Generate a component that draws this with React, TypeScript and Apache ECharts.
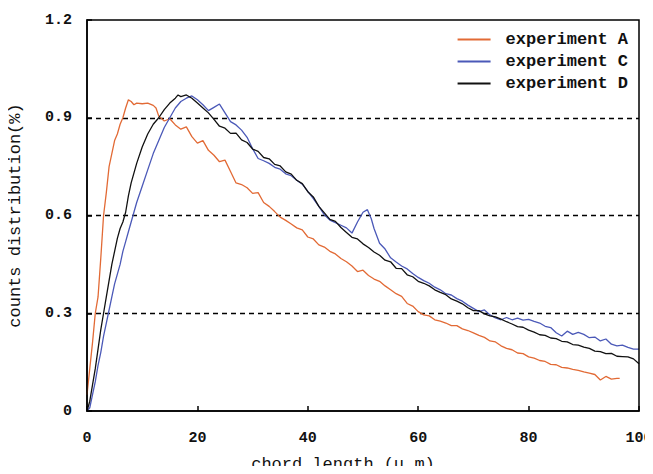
import React, { useEffect, useRef } from "react";
import * as echarts from "echarts";

const seriesNames = ["experiment A", "experiment C", "experiment D"];
const seriesColors = ["#E26A35", "#4B59B8", "#111111"];

const expA: [number, number][] = [
  [0, 0.05], [0.5, 0.13], [1, 0.21], [1.5, 0.3], [2, 0.35], [2.5, 0.47], [3, 0.6], [3.5, 0.67], [4, 0.75], [4.5, 0.79],
  [5, 0.83], [5.5, 0.85], [6, 0.88], [6.5, 0.9], [7, 0.93], [7.5, 0.955], [8, 0.95], [8.5, 0.94], [9, 0.945], [10, 0.943],
  [11, 0.945], [12, 0.938], [12.5, 0.93], [13, 0.905], [14, 0.89], [15, 0.897], [16, 0.878], [17, 0.865], [18, 0.872], [19, 0.842],
  [20, 0.822], [21, 0.83], [22, 0.8], [23, 0.785], [24, 0.765], [25, 0.77], [26, 0.735], [27, 0.7], [28, 0.695], [29, 0.685],
  [30, 0.668], [31, 0.67], [32, 0.64], [33, 0.628], [34, 0.612], [35, 0.595], [36, 0.585], [37, 0.574], [38, 0.562], [39, 0.556],
  [40, 0.534], [41, 0.528], [42, 0.51], [43, 0.503], [44, 0.49], [45, 0.482], [46, 0.468], [47, 0.458], [48, 0.445], [49, 0.428],
  [50, 0.432], [51, 0.416], [52, 0.405], [53, 0.398], [54, 0.384], [55, 0.372], [56, 0.36], [57, 0.352], [58, 0.33], [59, 0.322],
  [60, 0.305], [61, 0.295], [62, 0.292], [63, 0.28], [64, 0.276], [65, 0.27], [66, 0.262], [67, 0.262], [68, 0.252], [69, 0.247],
  [70, 0.24], [71, 0.232], [72, 0.226], [73, 0.215], [74, 0.212], [75, 0.2], [76, 0.192], [77, 0.188], [78, 0.178], [79, 0.176],
  [80, 0.166], [81, 0.162], [82, 0.155], [83, 0.152], [84, 0.143], [85, 0.142], [86, 0.134], [87, 0.132], [88, 0.128], [89, 0.125],
  [90, 0.12], [91, 0.116], [92, 0.112], [93, 0.095], [94, 0.106], [95, 0.098], [96, 0.1], [96.5, 0.1],
];

const expC: [number, number][] = [
  [0, 0], [0.5, 0.01], [1, 0.05], [1.5, 0.09], [2, 0.14], [2.5, 0.18], [3, 0.23], [3.5, 0.27], [4, 0.31], [4.5, 0.35],
  [5, 0.39], [5.5, 0.42], [6, 0.45], [6.5, 0.49], [7, 0.52], [7.5, 0.55], [8, 0.58], [8.5, 0.61], [9, 0.64], [10, 0.69],
  [11, 0.74], [12, 0.79], [13, 0.83], [14, 0.87], [15, 0.9], [16, 0.93], [17, 0.95], [18, 0.96], [19, 0.967], [20, 0.955],
  [21, 0.94], [22, 0.922], [23, 0.932], [24, 0.942], [25, 0.915], [26, 0.888], [27, 0.878], [28, 0.862], [29, 0.84], [30, 0.805],
  [31, 0.775], [32, 0.768], [33, 0.76], [34, 0.748], [35, 0.742], [36, 0.728], [37, 0.722], [38, 0.708], [39, 0.696], [40, 0.674],
  [41, 0.652], [42, 0.628], [43, 0.602], [44, 0.586], [45, 0.578], [46, 0.57], [47, 0.562], [48, 0.546], [49, 0.58], [50, 0.61],
  [50.8, 0.618], [51.5, 0.59], [52, 0.56], [53, 0.515], [54, 0.497], [55, 0.47], [56, 0.457], [57, 0.445], [58, 0.436], [59, 0.422],
  [60, 0.41], [61, 0.4], [62, 0.392], [63, 0.38], [64, 0.372], [65, 0.36], [66, 0.356], [67, 0.345], [68, 0.337], [69, 0.325],
  [70, 0.315], [71, 0.305], [72, 0.31], [73, 0.295], [74, 0.286], [75, 0.28], [76, 0.287], [77, 0.28], [78, 0.285], [79, 0.279],
  [80, 0.281], [81, 0.275], [82, 0.27], [83, 0.26], [84, 0.256], [85, 0.24], [86, 0.23], [87, 0.245], [88, 0.235], [89, 0.241],
  [90, 0.235], [91, 0.225], [92, 0.227], [93, 0.215], [94, 0.221], [95, 0.205], [96, 0.2], [97, 0.202], [98, 0.195], [99, 0.19],
  [100, 0.19],
];

const expD: [number, number][] = [
  [0, 0], [0.5, 0.03], [1, 0.08], [1.5, 0.13], [2, 0.19], [2.5, 0.25], [3, 0.3], [3.5, 0.35], [4, 0.4], [4.5, 0.45],
  [5, 0.49], [5.5, 0.53], [6, 0.56], [6.5, 0.58], [7, 0.61], [7.5, 0.66], [8, 0.7], [9, 0.76], [10, 0.81], [11, 0.85],
  [12, 0.88], [13, 0.9], [14, 0.925], [15, 0.945], [16, 0.96], [16.5, 0.97], [17, 0.965], [18, 0.97], [19, 0.96], [20, 0.945],
  [21, 0.93], [22, 0.915], [23, 0.895], [24, 0.874], [25, 0.868], [26, 0.852], [27, 0.853], [28, 0.832], [29, 0.824], [30, 0.804],
  [31, 0.797], [32, 0.778], [33, 0.774], [34, 0.757], [35, 0.752], [36, 0.734], [37, 0.727], [38, 0.708], [39, 0.698], [40, 0.673],
  [41, 0.657], [42, 0.628], [43, 0.608], [44, 0.588], [45, 0.582], [46, 0.563], [47, 0.548], [48, 0.533], [49, 0.528], [50, 0.513],
  [51, 0.502], [52, 0.488], [53, 0.478], [54, 0.463], [55, 0.458], [56, 0.438], [57, 0.437], [58, 0.418], [59, 0.412], [60, 0.398],
  [61, 0.392], [62, 0.384], [63, 0.372], [64, 0.364], [65, 0.357], [66, 0.344], [67, 0.337], [68, 0.329], [69, 0.317], [70, 0.308],
  [71, 0.308], [72, 0.298], [73, 0.292], [74, 0.289], [75, 0.282], [76, 0.274], [77, 0.267], [78, 0.259], [79, 0.257], [80, 0.248],
  [81, 0.242], [82, 0.234], [83, 0.232], [84, 0.224], [85, 0.222], [86, 0.214], [87, 0.212], [88, 0.204], [89, 0.202], [90, 0.196],
  [91, 0.192], [92, 0.184], [93, 0.182], [94, 0.176], [95, 0.177], [96, 0.168], [97, 0.167], [98, 0.166], [99, 0.16], [100, 0.145],
];

const xTicks = { min: 0, max: 100, interval: 20 };
const yTicks = { min: 0, max: 1.2, interval: 0.3 };

const FONT = "'Liberation Mono', 'DejaVu Sans Mono', monospace";

export default function App() {
  const ref = useRef<HTMLDivElement>(null);
  useEffect(() => {
    if (!ref.current) return;
    const chart = echarts.init(ref.current, null, { renderer: "svg" });
    const allData = [expA, expC, expD];
    chart.setOption({
      animation: false,
      backgroundColor: "#ffffff",
      textStyle: { fontFamily: FONT },
      grid: {
        left: 87,
        right: 14,
        top: 20,
        bottom: 63,
        outerBoundsMode: "none",
        containLabel: false,
        show: true,
        borderColor: "#000",
        borderWidth: 1.5,
        backgroundColor: "transparent",
        z: 10,
      },
      legend: {
        orient: "vertical",
        right: 20,
        top: 26,
        itemGap: 5,
        itemWidth: 33,
        itemHeight: 2,
        icon: "rect",
        data: seriesNames,
        textStyle: {
          fontFamily: FONT,
          fontWeight: "bold",
          fontSize: 17,
          color: "#111",
          padding: [0, 0, 0, 10],
        },
      },
      xAxis: {
        type: "value",
        min: xTicks.min,
        max: xTicks.max,
        interval: xTicks.interval,
        name: "chord length (μ m)",
        nameLocation: "middle",
        nameGap: 45,
        nameTextStyle: {
          fontFamily: FONT,
          fontSize: 17,
          color: "#111",
          padding: [0, 40, 0, 0],
        },
        axisLine: { show: true, lineStyle: { color: "#000", width: 1.5 } },
        axisTick: { show: true, inside: true, length: 5, lineStyle: { color: "#000", width: 1.5 } },
        axisLabel: {
          margin: 20,
          fontFamily: FONT,
          fontWeight: "bold",
          fontSize: 15,
          color: "#111",
        },
        splitLine: { show: false },
      },
      yAxis: {
        type: "value",
        min: yTicks.min,
        max: yTicks.max,
        interval: yTicks.interval,
        name: "counts distribution(%)",
        nameLocation: "middle",
        nameGap: 63,
        nameTextStyle: { fontFamily: FONT, fontSize: 17, color: "#111" },
        axisLine: { show: true, lineStyle: { color: "#000", width: 1.5 } },
        axisTick: { show: true, inside: true, length: 5, lineStyle: { color: "#000", width: 1.5 } },
        axisLabel: {
          margin: 15,
          fontFamily: FONT,
          fontWeight: "bold",
          fontSize: 15,
          color: "#111",
          formatter: (v: number) => (v === 0 ? "0" : v.toFixed(1)),
        },
        splitLine: {
          show: true,
          showMinLine: false,
          showMaxLine: false,
          lineStyle: { color: "#000", type: [5, 4], width: 1.3 },
        },
      },
      series: seriesNames.map((name, i) => ({
        name,
        type: "line",
        data: allData[i],
        showSymbol: false,
        symbol: "none",
        color: seriesColors[i],
        lineStyle: { color: seriesColors[i], width: 1.3 },
        z: i === 0 ? 3 : i === 1 ? 4 : 5,
      })),
    });
    return () => chart.dispose();
  }, []);
  return <div ref={ref} style={{ width: 653, height: 474, margin: -8 }} />;
}
